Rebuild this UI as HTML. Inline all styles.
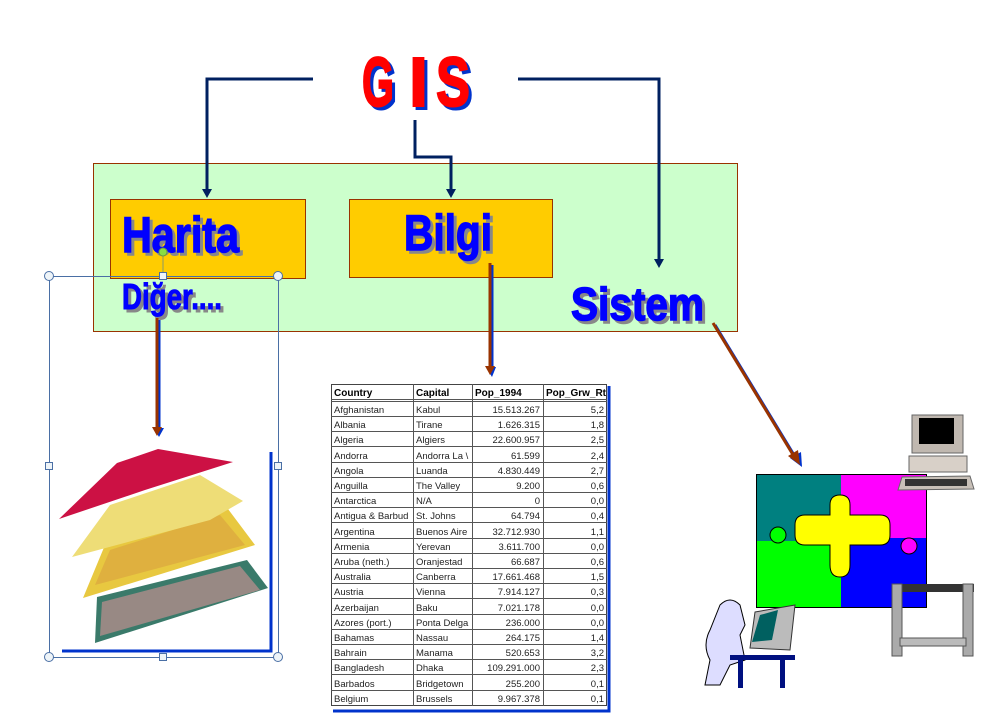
<!DOCTYPE html>
<html><head><meta charset="utf-8"><style>
html,body{margin:0;padding:0;background:#fff;}
svg{display:block}
.t{font-family:"Liberation Sans",sans-serif;font-size:9.5px;fill:#222}
.h{font-family:"Liberation Sans",sans-serif;font-size:10px;font-weight:bold;fill:#000}
.big{font-family:"Liberation Sans",sans-serif;font-weight:bold}
</style></head><body>
<svg width="1000" height="727" viewBox="0 0 1000 727" xmlns="http://www.w3.org/2000/svg">
<!-- green box -->
<rect x="93.5" y="163.5" width="644" height="168" fill="#ccffcc" stroke="#993300" stroke-width="1"/>
<rect x="110.5" y="199.5" width="195" height="79" fill="#ffcc00" stroke="#993300"/>
<rect x="349.5" y="199.5" width="203" height="78" fill="#ffcc00" stroke="#993300"/>
<!-- connectors -->
<g stroke="#002060" stroke-width="3" fill="none">
<path d="M313,79 H207 V190"/>
<path d="M415,120 V157 H451 V190"/>
<path d="M518,79 H659 V260"/>
</g>
<g fill="#002060">
<path d="M202,189 L212,189 L207,198 Z"/>
<path d="M446,189 L456,189 L451,198 Z"/>
<path d="M654,259 L664,259 L659,268 Z"/>
</g>
<!-- GIS -->
<g class="big" font-size="70">
<text x="365" y="109" fill="#0033cc" stroke="#0033cc" stroke-width="2" textLength="32" lengthAdjust="spacingAndGlyphs">G</text>
<text x="412" y="109" fill="#0033cc" stroke="#0033cc" stroke-width="2" textLength="19" lengthAdjust="spacingAndGlyphs">I</text>
<text x="439" y="109" fill="#0033cc" stroke="#0033cc" stroke-width="2" textLength="34" lengthAdjust="spacingAndGlyphs">S</text>
<text x="362" y="106" fill="#ff0000" stroke="#ff0000" stroke-width="2" textLength="32" lengthAdjust="spacingAndGlyphs">G</text>
<text x="409" y="106" fill="#ff0000" stroke="#ff0000" stroke-width="2" textLength="19" lengthAdjust="spacingAndGlyphs">I</text>
<text x="436" y="106" fill="#ff0000" stroke="#ff0000" stroke-width="2" textLength="34" lengthAdjust="spacingAndGlyphs">S</text>
</g>
<!-- labels -->
<g class="big">
<text x="125" y="255" font-size="50" fill="#888" stroke="#888" stroke-width="1.5" textLength="117" lengthAdjust="spacingAndGlyphs">Harita</text>
<text x="122" y="252" font-size="50" fill="#0000ff" stroke="#0000ff" stroke-width="1.5" textLength="117" lengthAdjust="spacingAndGlyphs">Harita</text>
<text x="407" y="253" font-size="50" fill="#888" stroke="#888" stroke-width="1.5" textLength="88" lengthAdjust="spacingAndGlyphs">Bilgi</text>
<text x="404" y="250" font-size="50" fill="#0000ff" stroke="#0000ff" stroke-width="1.5" textLength="88" lengthAdjust="spacingAndGlyphs">Bilgi</text>
<text x="125" y="312" font-size="36" fill="#888" stroke="#888" stroke-width="1" textLength="100" lengthAdjust="spacingAndGlyphs">Diğer....</text>
<text x="122" y="309" font-size="36" fill="#0000ff" stroke="#0000ff" stroke-width="1" textLength="100" lengthAdjust="spacingAndGlyphs">Diğer....</text>
<text x="574" y="323" font-size="46" fill="#888" stroke="#888" stroke-width="1.5" textLength="133" lengthAdjust="spacingAndGlyphs">Sistem</text>
<text x="571" y="320" font-size="46" fill="#0000ff" stroke="#0000ff" stroke-width="1.5" textLength="133" lengthAdjust="spacingAndGlyphs">Sistem</text>
</g>
<!-- brown arrows with blue shadow -->
<g stroke-width="3">
<line x1="492" y1="265" x2="492" y2="370" stroke="#0033cc"/>
<line x1="490" y1="263" x2="490" y2="368" stroke="#993300"/>
<line x1="159" y1="320" x2="159" y2="430" stroke="#0033cc"/>
<line x1="157" y1="318" x2="157" y2="428" stroke="#993300"/>
<line x1="715" y1="325" x2="797" y2="460" stroke="#0033cc"/>
<line x1="713" y1="323" x2="795" y2="458" stroke="#993300"/>
</g>
<path d="M486,367 L496,367 L492,377 Z" fill="#0033cc"/><path d="M485,366 L495,366 L490,375 Z" fill="#993300"/>
<path d="M154,428 L164,428 L159,437 Z" fill="#0033cc"/><path d="M152,427 L162,427 L157,436 Z" fill="#993300"/>
<path d="M790,458 L801,452 L802,467 Z" fill="#0033cc"/><path d="M788,456 L798,450 L800,465 Z" fill="#993300"/>
<!-- selection frame -->
<rect x="49.5" y="276.5" width="229" height="381" fill="none" stroke="#4a6fa5" stroke-width="1"/>
<line x1="163" y1="252" x2="163" y2="276" stroke="#8a9a6a"/>
<circle cx="163" cy="252" r="4" fill="#88dd44" stroke="#6a9a3a"/>
<g fill="#eef4f8" stroke="#4a6fa5">
<circle cx="49" cy="276" r="4.5"/><circle cx="278" cy="276" r="4.5"/><circle cx="49" cy="657" r="4.5"/><circle cx="278" cy="657" r="4.5"/>
<rect x="159.5" y="272.5" width="7" height="7"/><rect x="159.5" y="653.5" width="7" height="7"/>
<rect x="45.5" y="462.5" width="7" height="7"/><rect x="274.5" y="462.5" width="7" height="7"/>
</g>
<path d="M271,452 V651 H62" stroke="#0033cc" stroke-width="3" fill="none"/>
<!-- map layers -->
<polygon points="95,643 97,597 247,560 268,588" fill="#3a7a6a"/>
<polygon points="100,636 102,602 240,566 260,590" fill="#c09090" opacity="0.7"/>
<polygon points="83,598 105,545 225,505 255,545" fill="#e8c840"/>
<polygon points="95,585 110,550 220,515 245,545" fill="#d8a040" opacity="0.6"/>
<polygon points="72,557 110,505 200,475 243,501 210,520" fill="#eedd77"/>
<polygon points="59,519 117,463 158,449 233,462 145,490" fill="#cc1144"/>
<!-- table -->
<path d="M609,386 V711 H333" stroke="#0033cc" stroke-width="3" fill="none"/>
<rect x="331.5" y="384.5" width="275" height="321" stroke="#444" stroke-width="1" fill="#fff"/>
<g stroke="#555" stroke-width="1">
<line x1="331" y1="399.5" x2="607" y2="399.5"/>
<line x1="331" y1="401.5" x2="607" y2="401.5"/>
<line x1="413.5" y1="384" x2="413.5" y2="706"/>
<line x1="472.5" y1="384" x2="472.5" y2="706"/>
<line x1="543.5" y1="384" x2="543.5" y2="706"/>
<path d="M331,416.5H607M331,431.5H607M331,446.5H607M331,462.5H607M331,477.5H607M331,492.5H607M331,507.5H607M331,522.5H607M331,538.5H607M331,553.5H607M331,568.5H607M331,583.5H607M331,598.5H607M331,614.5H607M331,629.5H607M331,644.5H607M331,659.5H607M331,674.5H607M331,690.5H607"/>
</g>
<g class="h"><text x="334" y="396">Country</text><text x="416" y="396">Capital</text><text x="475" y="396">Pop_1994</text><text x="546" y="396">Pop_Grw_Rt</text></g>
<g class="t">
<text x="334" y="413">Afghanistan</text><text x="416" y="413">Kabul</text>
<text x="334" y="428">Albania</text><text x="416" y="428">Tirane</text>
<text x="334" y="443">Algeria</text><text x="416" y="443">Algiers</text>
<text x="334" y="459">Andorra</text><text x="416" y="459">Andorra La \</text>
<text x="334" y="474">Angola</text><text x="416" y="474">Luanda</text>
<text x="334" y="489">Anguilla</text><text x="416" y="489">The Valley</text>
<text x="334" y="504">Antarctica</text><text x="416" y="504">N/A</text>
<text x="334" y="519">Antigua &amp; Barbud</text><text x="416" y="519">St. Johns</text>
<text x="334" y="535">Argentina</text><text x="416" y="535">Buenos Aire</text>
<text x="334" y="550">Armenia</text><text x="416" y="550">Yerevan</text>
<text x="334" y="565">Aruba (neth.)</text><text x="416" y="565">Oranjestad</text>
<text x="334" y="580">Australia</text><text x="416" y="580">Canberra</text>
<text x="334" y="595">Austria</text><text x="416" y="595">Vienna</text>
<text x="334" y="611">Azerbaijan</text><text x="416" y="611">Baku</text>
<text x="334" y="626">Azores (port.)</text><text x="416" y="626">Ponta Delga</text>
<text x="334" y="641">Bahamas</text><text x="416" y="641">Nassau</text>
<text x="334" y="656">Bahrain</text><text x="416" y="656">Manama</text>
<text x="334" y="671">Bangladesh</text><text x="416" y="671">Dhaka</text>
<text x="334" y="687">Barbados</text><text x="416" y="687">Bridgetown</text>
<text x="334" y="702">Belgium</text><text x="416" y="702">Brussels</text>
</g>
<g class="t" text-anchor="end">
<text x="540" y="413">15.513.267</text><text x="604" y="413">5,2</text>
<text x="540" y="428">1.626.315</text><text x="604" y="428">1,8</text>
<text x="540" y="443">22.600.957</text><text x="604" y="443">2,5</text>
<text x="540" y="459">61.599</text><text x="604" y="459">2,4</text>
<text x="540" y="474">4.830.449</text><text x="604" y="474">2,7</text>
<text x="540" y="489">9.200</text><text x="604" y="489">0,6</text>
<text x="540" y="504">0</text><text x="604" y="504">0,0</text>
<text x="540" y="519">64.794</text><text x="604" y="519">0,4</text>
<text x="540" y="535">32.712.930</text><text x="604" y="535">1,1</text>
<text x="540" y="550">3.611.700</text><text x="604" y="550">0,0</text>
<text x="540" y="565">66.687</text><text x="604" y="565">0,6</text>
<text x="540" y="580">17.661.468</text><text x="604" y="580">1,5</text>
<text x="540" y="595">7.914.127</text><text x="604" y="595">0,3</text>
<text x="540" y="611">7.021.178</text><text x="604" y="611">0,0</text>
<text x="540" y="626">236.000</text><text x="604" y="626">0,0</text>
<text x="540" y="641">264.175</text><text x="604" y="641">1,4</text>
<text x="540" y="656">520.653</text><text x="604" y="656">3,2</text>
<text x="540" y="671">109.291.000</text><text x="604" y="671">2,3</text>
<text x="540" y="687">255.200</text><text x="604" y="687">0,1</text>
<text x="540" y="702">9.967.378</text><text x="604" y="702">0,1</text>
</g>
<!-- puzzle -->
<rect x="757" y="475" width="84" height="68" fill="#008080"/>
<rect x="841" y="475" width="85" height="65" fill="#ff00ff"/>
<rect x="757" y="541" width="84" height="66" fill="#00ff00"/>
<rect x="841" y="538" width="85" height="69" fill="#0000ff"/>
<circle cx="778" cy="535" r="8" fill="#00ff00" stroke="#000"/>
<circle cx="909" cy="546" r="8" fill="#ff00ff" stroke="#000"/>
<path d="M830,505 q0,-10 10,-10 q10,0 10,10 v10 h30 q10,0 10,10 v10 q0,10 -10,10 h-30 v20 q0,12 -10,12 q-10,0 -10,-12 v-20 h-25 q-10,0 -10,-10 v-10 q0,-10 10,-10 h25 z" fill="#ffff00" stroke="#000"/>
<rect x="756.5" y="474.5" width="170" height="133" fill="none" stroke="#000"/>
<!-- computer -->
<rect x="912" y="415" width="51" height="38" fill="#c0b8b0" stroke="#666"/>
<rect x="919" y="418" width="35" height="26" fill="#000"/>
<rect x="909" y="456" width="58" height="16" fill="#d8d0c8" stroke="#666"/>
<polygon points="902,477 970,476 974,489 898,490" fill="#c8c0b8" stroke="#666"/>
<rect x="905" y="479" width="62" height="7" fill="#333"/>
<!-- plotter -->
<rect x="892" y="584" width="82" height="8" fill="#333"/>
<rect x="892" y="584" width="10" height="72" fill="#aaa" stroke="#555"/>
<rect x="963" y="584" width="10" height="72" fill="#aaa" stroke="#555"/>
<rect x="900" y="638" width="66" height="8" fill="#bbb" stroke="#555"/>
<!-- person -->
<path d="M720,605 q10,-10 20,0 l5,20 l-5,10 l5,25 l-15,5 l-10,20 h-15 l5,-25 q-8,-15 0,-30 z" fill="#ddddff" stroke="#000"/>
<polygon points="755,612 795,605 790,650 750,648" fill="#bbb" stroke="#333"/>
<polygon points="760,615 778,610 772,640 752,642" fill="#006060"/>
<rect x="730" y="655" width="65" height="5" fill="#001080"/>
<rect x="738" y="660" width="5" height="28" fill="#001080"/>
<rect x="780" y="660" width="5" height="28" fill="#001080"/>
</svg>
</body></html>
